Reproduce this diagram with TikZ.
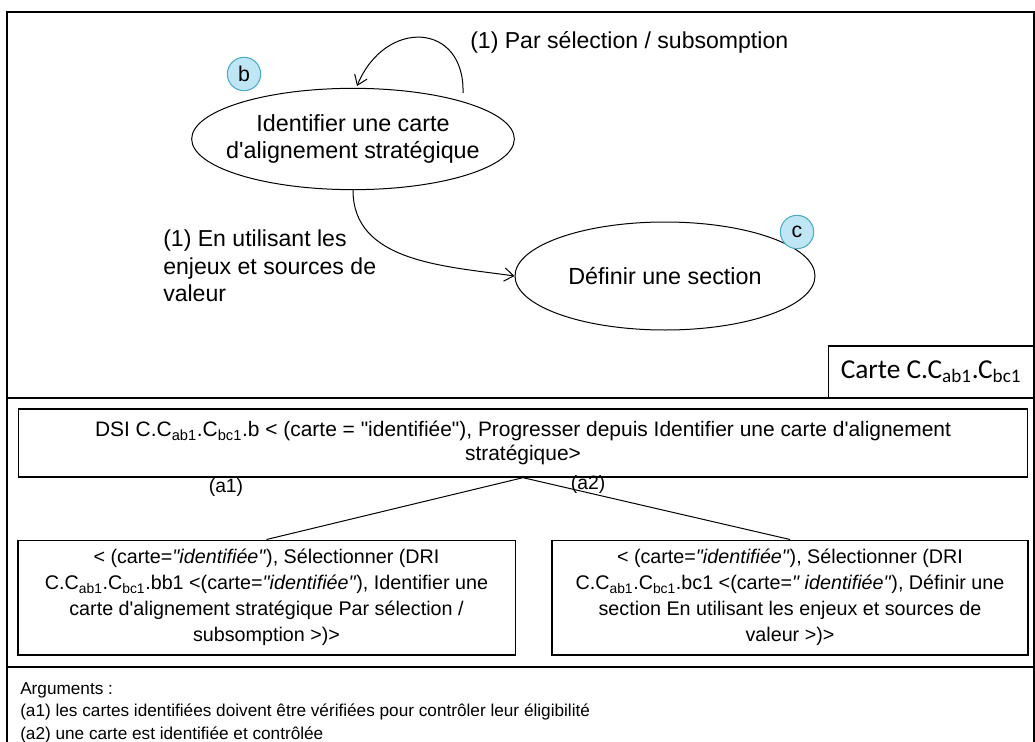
\documentclass[tikz,border=0pt]{standalone}
\usepackage{fontspec}
\newfontfamily\arialfont{Liberation Sans}
\newfontfamily\cartefont{Carlito}
\usepackage{tikz}
\usetikzlibrary{shapes,arrows.meta,positioning}
\definecolor{badgefill}{HTML}{BFE6F5}
\definecolor{badgeline}{HTML}{4BACC6}

\begin{document}
\arialfont
\begin{tikzpicture}[x=0.75pt, y=-0.75pt,
        goal/.style={ellipse, draw, line width=0.75pt, inner sep=0pt, align=center, font=\fontsize{17.5}{20}\selectfont},
        badge/.style={circle, draw=badgeline, fill=badgefill, line width=0.8pt, minimum size=25pt, inner sep=0pt, font=\fontsize{16}{16}\selectfont},
        box/.style={rectangle, draw, line width=1pt, inner sep=0pt, align=center, font=\fontsize{14.8}{19.5}\selectfont},
        lbl/.style={align=left, inner sep=0pt, font=\fontsize{17.3}{20.5}\selectfont},
        arrow/.style={-{Straight Barb[length=7pt, width=10pt]}, line width=0.75pt}]

        % frame and panels
        \useasboundingbox (0,0) rectangle (1035,742);
        \draw[line width=1pt] (7,742) -- (7,12) -- (1034,12) -- (1034,742);
        \draw[line width=1pt] (7,398) -- (1034,398);
        \draw[line width=1pt] (7,667) -- (1034,667);

        % Goals (top)
        \node[goal, inner xsep=-20pt, minimum width=242pt, minimum height=76pt] (ident) at (353,139) {Identifier une carte\\d'alignement stratégique};
        \node[goal, minimum width=225pt, minimum height=81pt] (section) at (665,276) {Définir une section};
        \node[badge] (bb) at (244,74) {b};
        \node[badge] (bc) at (797,232) {c};
        \node[rectangle, draw, line width=1pt, minimum width=154pt, minimum height=39pt, inner sep=0pt, font=\cartefont\fontsize{20.5}{20.5}\selectfont] (carte) at (931,372) {Carte C.C\textsubscript{ab1}.C\textsubscript{bc1}};

        % Strategies
        \coordinate (loopout) at (463,93);
        \coordinate (loopin) at (357,86);
        \draw[arrow] (loopout) .. controls (465,22) and (385,18) .. (loopin);
        \node[lbl, anchor=west] (bysel) at (470,42) {(1) Par sélection / subsomption};
        \draw[arrow] (ident.south) to[out=-90, in=172] (section.west);
        \node[lbl, anchor=north west] (byuse) at (163,230) {(1) En utilisant les\\enjeux et sources de\\valeur};

        % Decision (middle)
        \node[box, minimum width=757pt, minimum height=51pt, font=\fontsize{15.7}{18}\selectfont] (dsi) at (523,443) {DSI C.C\textsubscript{ab1}.C\textsubscript{bc1}.b < (carte = "identifiée"), Progresser depuis Identifier une carte d'alignement\\stratégique>};
        \node[box, minimum width=373pt, minimum height=86pt] (optone) at (266.5,597.5) {< (carte=\textit{"identifiée"}), Sélectionner (DRI\\C.C\textsubscript{ab1}.C\textsubscript{bc1}.bb1 <(carte=\textit{"identifiée"}), Identifier une\\carte d'alignement stratégique Par sélection /\\subsomption >)>};
        \node[box, minimum width=357pt, minimum height=86pt] (opttwo) at (790,597.5) {< (carte=\textit{"identifiée"}), Sélectionner (DRI\\C.C\textsubscript{ab1}.C\textsubscript{bc1}.bc1 <(carte=\textit{" identifiée"}), Définir une\\section En utilisant les enjeux et sources de\\valeur >)>};
        \draw[line width=0.75pt] (dsi.south) -- (optone.north);
        \draw[line width=0.75pt] (dsi.south) -- (opttwo.north);
        \node[font=\fontsize{14.5}{15}\selectfont] (aone) at (226,487) {(a1)};
        \node[font=\fontsize{14.5}{15}\selectfont] (atwo) at (588,484) {(a2)};

        % Arguments (bottom)
        \node[anchor=north west, align=left, inner sep=0pt, font=\fontsize{12.9}{17}\selectfont] (args) at (20,682) {Arguments :\\(a1) les cartes identifiées doivent être vérifiées pour contrôler leur éligibilité\\(a2) une carte est identifiée et contrôlée};
    \end{tikzpicture}
\end{document}
